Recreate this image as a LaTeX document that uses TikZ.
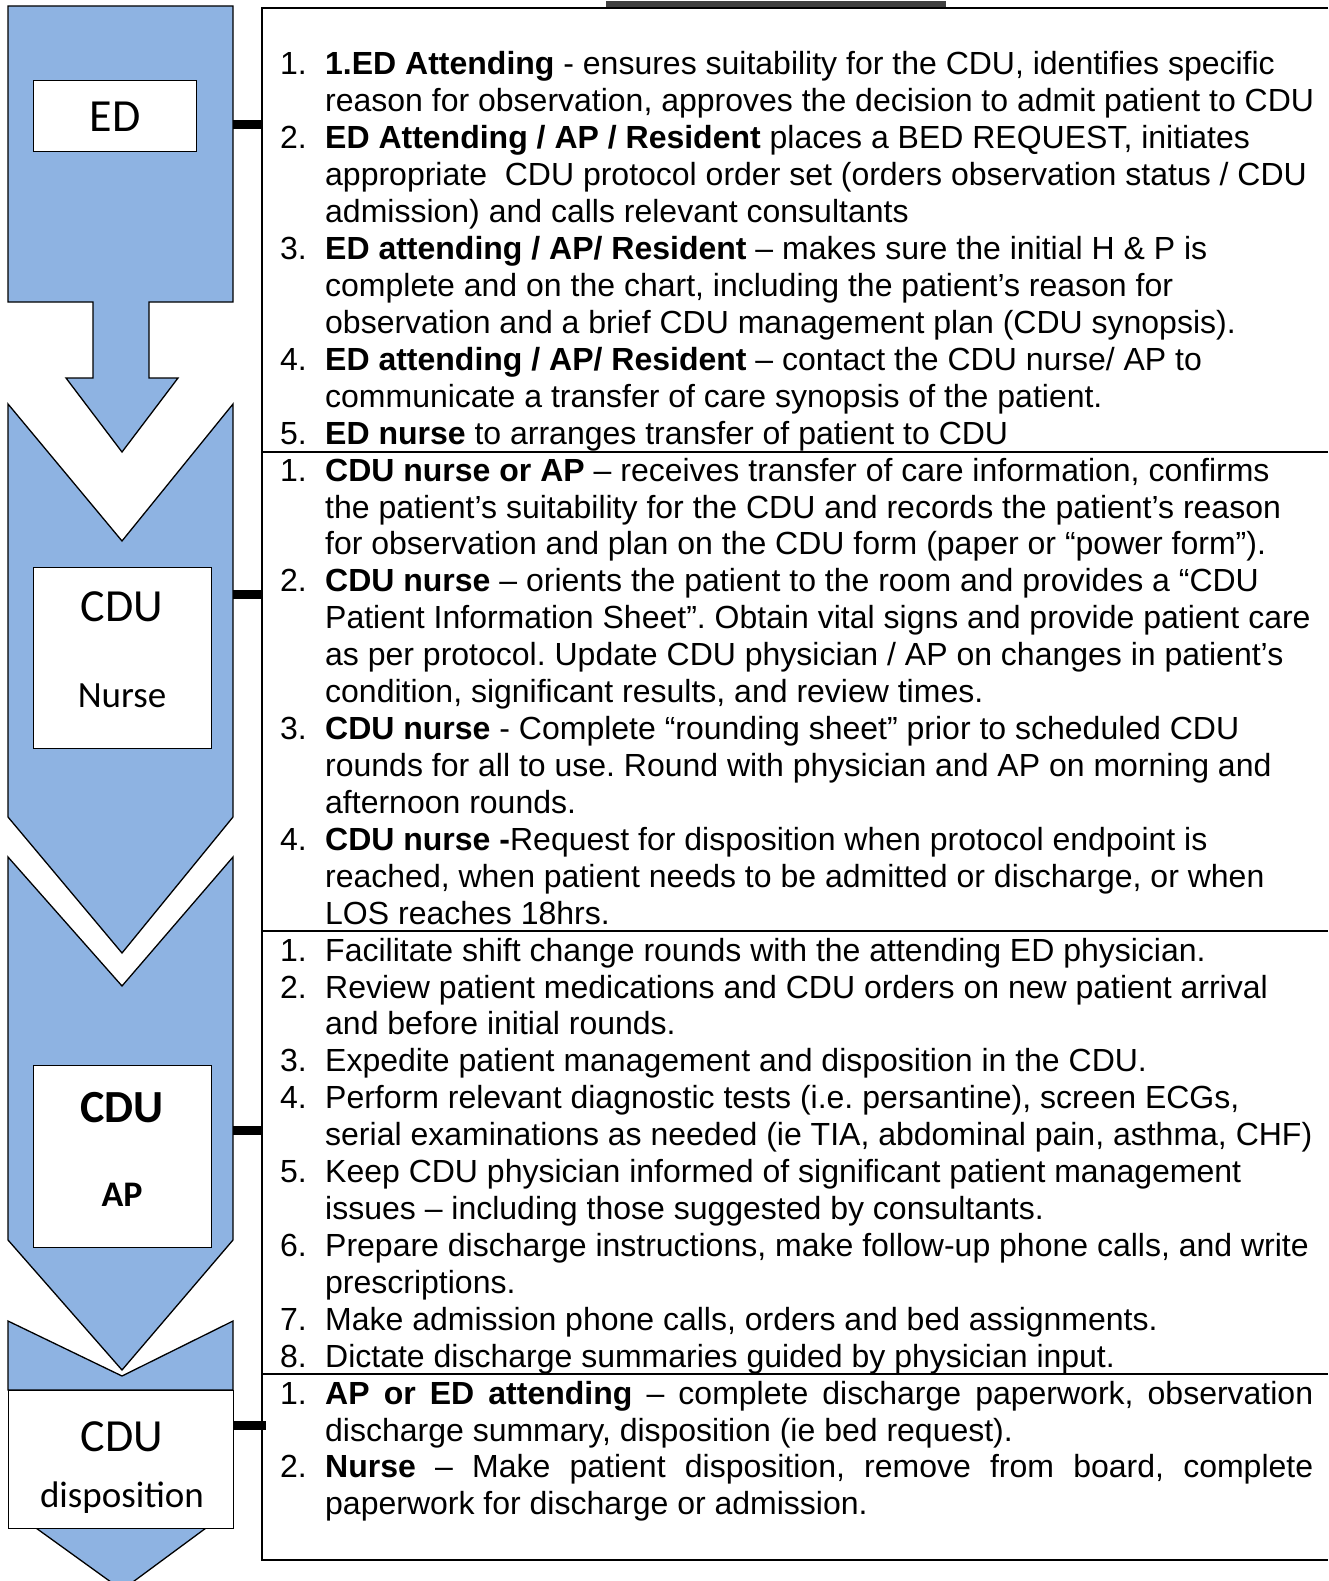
\documentclass[tikz,border=0pt]{standalone}
\usepackage{fontspec}
\setmainfont{Liberation Sans}
\newfontfamily\calfont{Carlito}
\frenchspacing
\definecolor{panelblue}{RGB}{142,179,226}
\definecolor{topgrey}{RGB}{64,64,64}
\newcommand\txl[3]{%
  \path (280,{75+36.92*#1}) node[txt] (n#1) {#2};
  \path (325,{75+36.92*#1}) node[txt] (t#1) {#3};}
\newcommand\txc[2]{%
  \path (325,{75+36.92*#1}) node[txt] (t#1) {#2};}
\begin{document}
\frenchspacing
\begin{tikzpicture}[x=1pt,y=-1pt,
  panel/.style={fill=panelblue,draw=black,line width=1.3pt,line join=miter},
  lbox/.style={fill=white,draw=black,line width=1.3pt},
  framel/.style={draw=black,line width=2.2pt},
  barl/.style={draw=black,line width=9pt},
  txt/.style={anchor=base west,inner sep=0pt,font=\frenchspacing\fontsize{32}{36.92}\selectfont},
  lblbig/.style={anchor=base,inner sep=0pt,font=\calfont\fontsize{46}{50}\selectfont},
  lblsmall/.style={anchor=base,inner sep=0pt,font=\calfont\fontsize{37}{40}\selectfont}]
\useasboundingbox (0,0) rectangle (1328,1581);
\fill[white] (0,0) rectangle (1328,1581);
% ---- left flow panels
\draw[panel] (8,6) -- (233,6) -- (233,302) -- (149,302) -- (149,378) -- (178,378)
  -- (122,452) -- (66,378) -- (93,378) -- (93,302) -- (8,302) -- cycle;
\draw[panel] (8,404) -- (122,541) -- (233,404) -- (233,817) -- (122,953) -- (8,817) -- cycle;
\draw[panel] (8,857) -- (122,986) -- (233,857) -- (233,1240) -- (122,1370) -- (8,1240) -- cycle;
\draw[panel] (8,1321) -- (122,1376) -- (233,1321) -- (233,1390) -- (8,1390) -- cycle;
\draw[panel] (36,1528) -- (122,1590) -- (206,1528) -- cycle;
% ---- label boxes
\node[lbox,minimum width=163pt,minimum height=71pt,anchor=north west] (edbox) at (33,80) {};
\node[lblbig] (edtxt) at (115,132) {ED};
\node[lbox,minimum width=178pt,minimum height=181pt,anchor=north west] (nursebox) at (33,567) {};
\node[lblbig] (nursecdu) at (122,621) {CDU};
\node[lblsmall] (nursetxt) at (122,707) {Nurse};
\node[lbox,minimum width=178pt,minimum height=182pt,anchor=north west] (apbox) at (33,1065) {};
\node[lblbig] (apcdu) at (122,1122) {\bfseries CDU};
\node[lblsmall,font=\calfont\bfseries\fontsize{36}{40}\selectfont] (aptxt) at (122,1206) {AP};
\node[lbox,minimum width=225pt,minimum height=138pt,anchor=north west] (dispbox) at (8,1390) {};
\node[lblbig] (dispcdu) at (122,1451) {CDU};
\node[lblsmall] (disptxt) at (122,1507) {disposition};
% ---- top grey bar
\fill[topgrey] (606,1) rectangle (946,7);
% ---- right frame
\coordinate (fTL) at (262,8);
\coordinate (fTR) at (1328,8);
\coordinate (fBL) at (262,1560);
\coordinate (fBR) at (1328,1560);
\draw[framel] (fTR) -- (fTL) -- (fBL) -- (fBR);
\foreach \yy/\nm in {452/s1,931/s2,1374/s3}{
  \coordinate (\nm L) at (262,\yy);
  \coordinate (\nm R) at (1328,\yy);
  \draw[framel] (\nm L) -- (\nm R);}
% ---- connector bars
\coordinate (edR) at (233,125);
\coordinate (edF) at (262,125);
\coordinate (nuR) at (233,594);
\coordinate (nuF) at (262,594);
\coordinate (apR) at (233,1130);
\coordinate (apF) at (262,1130);
\coordinate (diR) at (233,1425);
\coordinate (diF) at (266,1425);
\draw[barl] (edR) -- (edF);
\draw[barl] (nuR) -- (nuF);
\draw[barl] (apR) -- (apF);
\draw[barl] (diR) -- (diF);
% ---- text section 1
\txl{0}{1.}{\textbf{1.ED Attending} - ensures suitability for the CDU, identifies specific}
\txc{1}{reason for observation, approves the decision to admit patient to CDU}
\txl{2}{2.}{\textbf{ED Attending / AP / Resident} places a BED REQUEST, initiates}
\txc{3}{appropriate\ \ CDU protocol order set (orders observation status / CDU}
\txc{4}{admission) and calls relevant consultants}
\txl{5}{3.}{\textbf{ED attending / AP/ Resident} – makes sure the initial H \& P is}
\txc{6}{complete and on the chart, including the patient’s reason for}
\txc{7}{observation and a brief CDU management plan (CDU synopsis).}
\txl{8}{4.}{\textbf{ED attending / AP/ Resident} – contact the CDU nurse/ AP to}
\txc{9}{communicate a transfer of care synopsis of the patient.}
\txl{10}{5.}{\textbf{ED nurse} to arranges transfer of patient to CDU}
% ---- section 2
\txl{11}{1.}{\textbf{CDU nurse or AP} – receives transfer of care information, confirms}
\txc{12}{the patient’s suitability for the CDU and records the patient’s reason}
\txc{13}{for observation and plan on the CDU form (paper or “power form”).}
\txl{14}{2.}{\textbf{CDU nurse} – orients the patient to the room and provides a “CDU}
\txc{15}{Patient Information Sheet”. Obtain vital signs and provide patient care}
\txc{16}{as per protocol. Update CDU physician / AP on changes in patient’s}
\txc{17}{condition, significant results, and review times.}
\txl{18}{3.}{\textbf{CDU nurse} - Complete “rounding sheet” prior to scheduled CDU}
\txc{19}{rounds for all to use. Round with physician and AP on morning and}
\txc{20}{afternoon rounds.}
\txl{21}{4.}{\textbf{CDU nurse -}Request for disposition when protocol endpoint is}
\txc{22}{reached, when patient needs to be admitted or discharge, or when}
\txc{23}{LOS reaches 18hrs.}
% ---- section 3
\txl{24}{1.}{Facilitate shift change rounds with the attending ED physician.}
\txl{25}{2.}{Review patient medications and CDU orders on new patient arrival}
\txc{26}{and before initial rounds.}
\txl{27}{3.}{Expedite patient management and disposition in the CDU.}
\txl{28}{4.}{Perform relevant diagnostic tests (i.e. persantine), screen ECGs,}
\txc{29}{serial examinations as needed (ie TIA, abdominal pain, asthma, CHF)}
\txl{30}{5.}{Keep CDU physician informed of significant patient management}
\txc{31}{issues – including those suggested by consultants.}
\txl{32}{6.}{Prepare discharge instructions, make follow-up phone calls, and write}
\txc{33}{prescriptions.}
\txl{34}{7.}{Make admission phone calls, orders and bed assignments.}
\txl{35}{8.}{Dictate discharge summaries guided by physician input.}
% ---- section 4
\txl{36}{1.}{\makebox[988pt][s]{\textbf{AP or ED attending} – complete discharge paperwork, observation}}
\txc{37}{discharge summary, disposition (ie bed request).}
\txl{38}{2.}{\makebox[988pt][s]{\textbf{Nurse} – Make patient disposition, remove from board, complete}}
\txc{39}{paperwork for discharge or admission.}
\end{tikzpicture}
\end{document}
